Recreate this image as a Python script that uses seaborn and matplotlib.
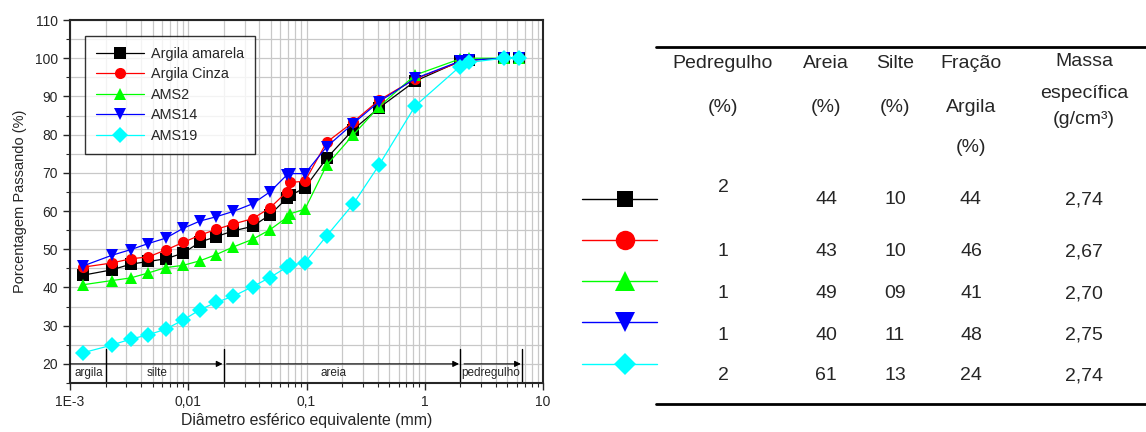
import numpy as np
import pandas as pd
import seaborn as sns
import matplotlib.pyplot as plt
from matplotlib.ticker import MultipleLocator, LogLocator, NullFormatter

# diametro (mm) comum as amostras
diametro = [0.00128, 0.00225, 0.00326, 0.00459, 0.00644, 0.00908, 0.0126, 0.0172,
            0.024, 0.035, 0.049, 0.068, 0.073, 0.097, 0.148, 0.248, 0.41, 0.83,
            1.98, 2.36, 4.67, 6.25]

argila_amarela = [43.2, 44.6, 46.1, 46.8, 47.5, 49.0, 51.9, 53.3, 54.8, 56.0, 59.0,
                  63.3, 64.1, 66.1, 73.8, 81.3, 87.0, 94.0, 99.2, 99.5, 100, 100]
argila_cinza = [45.3, 46.4, 47.5, 48.0, 49.8, 51.8, 53.7, 55.2, 56.6, 58.0, 60.8,
                65.0, 67.5, 67.8, 78.0, 83.3, 89.0, 94.6, 99.0, 99.5, 100, 100]
ams2 = [40.7, 41.8, 42.5, 43.8, 45.2, 45.8, 47.0, 48.6, 50.6, 52.6, 55.1,
        58.3, 59.3, 60.5, 72.0, 79.9, 87.3, 95.6, 99.8, 100, 100, 100]
ams14 = [45.6, 48.4, 49.9, 51.5, 52.9, 55.5, 57.4, 58.5, 59.9, 61.9, 65.0,
         69.4, 69.8, 69.8, 76.8, 82.9, 88.6, 94.7, 99.2, 99.5, 100, 100]
ams19 = [22.9, 24.9, 26.5, 27.6, 29.1, 31.5, 34.2, 36.1, 37.7, 40.2, 42.6,
         45.3, 45.8, 46.5, 53.5, 61.8, 72.0, 87.5, 97.8, 98.9, 100, 100]

amostras = ['Argila amarela', 'Argila Cinza', 'AMS2', 'AMS14', 'AMS19']
cores = ['#000000', '#ff0000', '#00ff00', '#0000ff', '#00ffff']
marcadores = ['s', 'o', '^', 'v', 'D']

# tabela
pedregulho = ['2', '1', '1', '1', '2']
areia = ['44', '43', '49', '40', '61']
silte = ['10', '10', '09', '11', '13']
fracao_argila = ['44', '46', '41', '48', '24']
massa_especifica = ['2,74', '2,67', '2,70', '2,75', '2,74']

# faixas granulometricas
limites = [0.002, 0.02, 2, 6.6]
faixas = ['argila', 'silte', 'areia', 'pedregulho']
pos_faixas = [0.00145, 0.0055, 0.17, 3.6]

series = [argila_amarela, argila_cinza, ams2, ams14, ams19]
df = pd.DataFrame({
    'diametro': diametro * len(amostras),
    'passando': sum(series, []),
    'amostra': np.repeat(amostras, len(diametro)),
})

sns.set_style('ticks')
plt.rcParams['font.family'] = ['Liberation Sans', 'DejaVu Sans']

fig = plt.figure(figsize=(11.46, 4.32), dpi=100)
ax = fig.add_axes([70 / 1146, 1 - 383 / 432, 473 / 1146, 363 / 432])

sns.lineplot(data=df, x='diametro', y='passando', hue='amostra', style='amostra',
             hue_order=amostras, style_order=amostras,
             palette=dict(zip(amostras, cores)), markers=dict(zip(amostras, marcadores)),
             dashes=False, markersize=8, markeredgewidth=0, linewidth=0.9,
             sort=False, ax=ax, legend=True)

ax.set_xscale('log')
ax.set_xlim(1e-3, 10)
ax.set_ylim(15, 110)
ax.set_xticks([1e-3, 1e-2, 1e-1, 1, 10], ['1E-3', '0,01', '0,1', '1', '10'])
ax.xaxis.set_minor_locator(LogLocator(base=10, subs=np.arange(2, 10)))
ax.xaxis.set_minor_formatter(NullFormatter())
ax.set_yticks(np.arange(20, 111, 10))
ax.yaxis.set_minor_locator(MultipleLocator(5))
ax.grid(which='both', color='#c8c8c8', linewidth=0.9)
ax.set_axisbelow(True)
ax.tick_params(which='major', length=5, width=1, labelsize=10, direction='out')
ax.tick_params(which='minor', length=3, width=0.8, direction='out')
for s in ax.spines.values():
    s.set_linewidth(1.5)
    s.set_visible(True)
ax.set_xlabel('Diâmetro esférico equivalente (mm)', fontsize=11.4, labelpad=3)
ax.set_ylabel('Porcentagem Passando (%)', fontsize=10.5, labelpad=6)

handles, labels = ax.get_legend_handles_labels()
leg = ax.legend(handles, labels, loc='upper left', bbox_to_anchor=(15 / 473, 1 - 16 / 363),
                borderaxespad=0, fontsize=10.4, frameon=True, fancybox=False,
                handlelength=3.3, labelspacing=0.45, borderpad=0.75, handletextpad=0.5)
leg.get_frame().set_edgecolor('black')
leg.get_frame().set_linewidth(1.0)

# linhas e setas das faixas
for x in limites:
    ax.plot([x, x], [15, 24], color='black', linewidth=1)
inicio = [1e-3, 0.0211, 2.15]
fim = [0.0195, 1.95, 6.5]
for a, b in zip(inicio, fim):
    ax.annotate('', xy=(b, 20), xytext=(a, 20),
                arrowprops=dict(arrowstyle='-|>', color='black', lw=0.8,
                                mutation_scale=9, shrinkA=0, shrinkB=0))
for nome, x in zip(faixas, pos_faixas):
    ax.text(x, 17.6, nome, fontsize=8.5, ha='center', va='center')

# tabela a direita
tx = fig.add_axes([570 / 1146, 0, 576 / 1146, 1])
tx.set_xlim(570, 1146)
tx.set_ylim(432, 0)
tx.axis('off')
tx.plot([656, 1146], [47, 47], color='black', linewidth=2)
tx.plot([656, 1146], [404, 404], color='black', linewidth=2)

fs = 14
xcol = [723, 826, 895, 971, 1084]
tx.text(723, 64, 'Pedregulho', fontsize=fs, ha='center', va='center')
tx.text(723, 107, '(%)', fontsize=fs, ha='center', va='center')
tx.text(826, 64, 'Areia', fontsize=fs, ha='center', va='center')
tx.text(826, 107, '(%)', fontsize=fs, ha='center', va='center')
tx.text(895, 64, 'Silte', fontsize=fs, ha='center', va='center')
tx.text(895, 107, '(%)', fontsize=fs, ha='center', va='center')
tx.text(971, 64, 'Fração', fontsize=fs, ha='center', va='center')
tx.text(971, 107, 'Argila', fontsize=fs, ha='center', va='center')
tx.text(971, 147, '(%)', fontsize=fs, ha='center', va='center')
tx.text(1084, 62, 'Massa', fontsize=fs, ha='center', va='center')
tx.text(1084, 94, 'específica', fontsize=fs, ha='center', va='center')
tx.text(1084, 119, '(g/cm³)', fontsize=fs, ha='center', va='center')

linhas_y = [200, 252, 294, 335, 376]
for i, y in enumerate(linhas_y):
    yp = 188 if i == 0 else y
    tx.text(xcol[0], yp, pedregulho[i], fontsize=fs, ha='center', va='center')
    tx.text(xcol[1], y, areia[i], fontsize=fs, ha='center', va='center')
    tx.text(xcol[2], y, silte[i], fontsize=fs, ha='center', va='center')
    tx.text(xcol[3], y, fracao_argila[i], fontsize=fs, ha='center', va='center')
    tx.text(xcol[4], y, massa_especifica[i], fontsize=fs, ha='center', va='center')

simb_y = [199, 240, 281, 322, 364]
tam = [11.5, 14, 15, 15, 11]
for y, c, m, t in zip(simb_y, cores, marcadores, tam):
    tx.plot([582, 657], [y, y], color=c, linewidth=1)
    tx.plot([625], [y], marker=m, color=c, markersize=t, markeredgewidth=0)

fig.savefig('out.png', dpi=100)
